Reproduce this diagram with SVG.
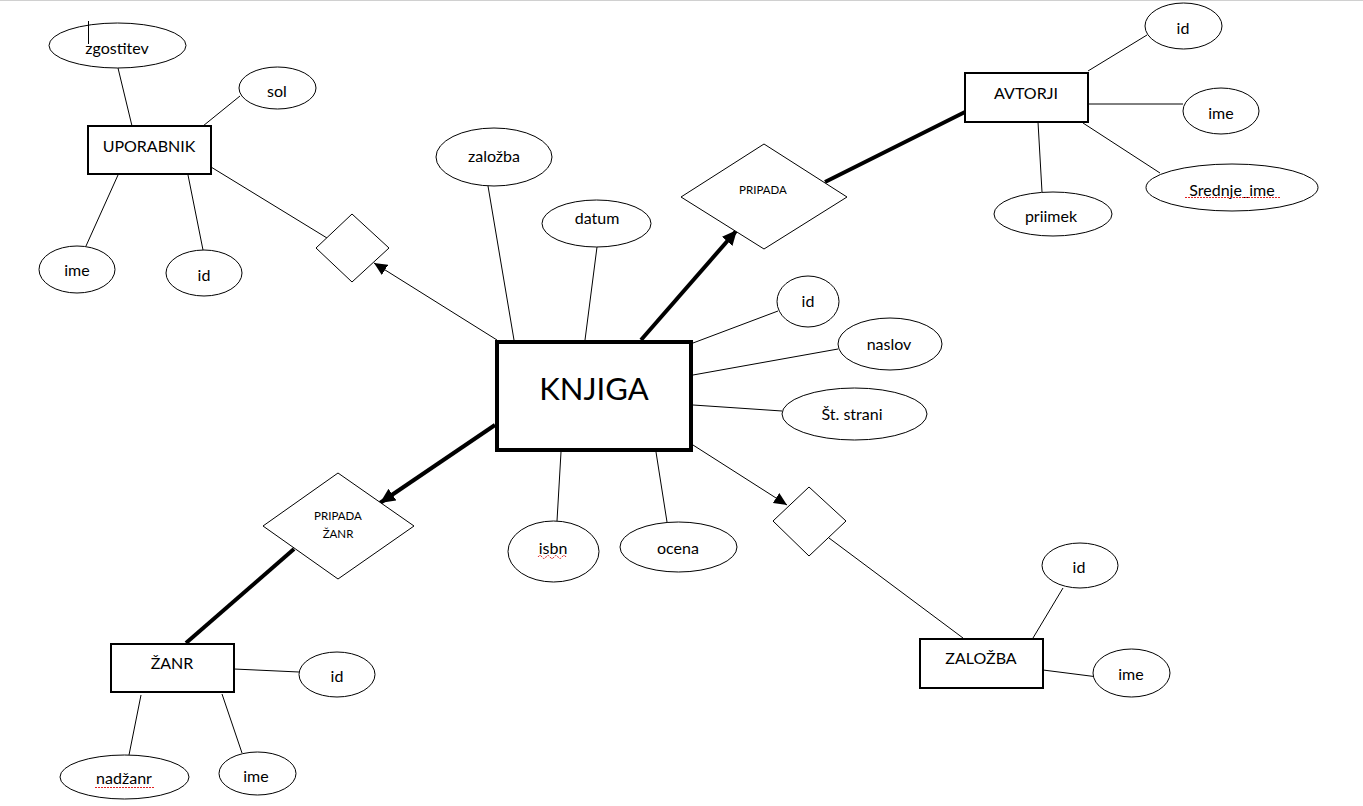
<svg xmlns="http://www.w3.org/2000/svg" width="1363" height="806" viewBox="0 0 1363 806">
<style>
text{font-family:Lato,"Open Sans","Liberation Sans",sans-serif;fill:#000;text-anchor:middle;dominant-baseline:central}
.a{font-size:16px}
.s{font-size:11.5px}
.big{font-size:31px}
ellipse,.d{fill:#fff;stroke:#000;stroke-width:1}
.e{fill:#fff;stroke:#000;stroke-width:2}
.k{fill:#fff;stroke:#000;stroke-width:4}
.t{stroke:#000;stroke-width:1;fill:none}
.w{stroke:#000;stroke-width:4;fill:none}
.sq{stroke:#e02020;stroke-width:1;fill:none;stroke-dasharray:2 1}
</style>
<defs>
<marker id="ah" markerUnits="userSpaceOnUse" markerWidth="14" markerHeight="12" refX="13" refY="6" orient="auto"><path d="M0,0 L13,6 L0,12 Z" fill="#000"/></marker>
<marker id="ahw" markerUnits="userSpaceOnUse" markerWidth="16" markerHeight="14" refX="15" refY="7" orient="auto"><path d="M0,0 L15,7 L0,14 Z" fill="#000"/></marker>
</defs>
<rect width="1363" height="806" fill="#fff"/>
<line x1="0" y1="0.5" x2="1363" y2="0.5" stroke="#d0d0d0" stroke-width="1"/>

<g id="connectors">
<line class="t" x1="118" y1="68" x2="132" y2="126"/>
<line class="t" x1="203" y1="126" x2="240" y2="96"/>
<line class="t" x1="118" y1="175" x2="86" y2="246"/>
<line class="t" x1="188" y1="175" x2="203" y2="250"/>
<line class="t" x1="211" y1="167" x2="327" y2="238"/>
<line class="t" x1="497" y1="340" x2="374" y2="263" marker-end="url(#ah)"/>
<line class="t" x1="488" y1="186" x2="514" y2="340"/>
<line class="t" x1="597" y1="247" x2="585" y2="340"/>
<line class="w" x1="641" y1="340" x2="737" y2="230" marker-end="url(#ahw)"/>
<line class="w" x1="825" y1="182" x2="965" y2="112"/>
<line class="t" x1="1088" y1="71" x2="1147" y2="35"/>
<line class="t" x1="1088" y1="104" x2="1183" y2="104"/>
<line class="t" x1="1083" y1="123" x2="1160" y2="173"/>
<line class="t" x1="1038" y1="122" x2="1042" y2="192"/>
<line class="t" x1="693" y1="343" x2="778" y2="311"/>
<line class="t" x1="693" y1="375" x2="838" y2="349"/>
<line class="t" x1="693" y1="405" x2="782" y2="411"/>
<line class="t" x1="561" y1="452" x2="557" y2="521"/>
<line class="t" x1="656" y1="452" x2="667" y2="522"/>
<line class="t" x1="693" y1="445" x2="787" y2="505" marker-end="url(#ah)"/>
<line class="t" x1="829" y1="538" x2="963" y2="638"/>
<line class="t" x1="1033" y1="638" x2="1063" y2="588"/>
<line class="t" x1="1043" y1="670" x2="1098" y2="677"/>
<line class="w" x1="495" y1="425" x2="380" y2="503" marker-end="url(#ahw)"/>
<line class="w" x1="294" y1="549" x2="186" y2="643"/>
<line class="t" x1="234" y1="669" x2="299" y2="672"/>
<line class="t" x1="141" y1="695" x2="129" y2="755"/>
<line class="t" x1="222" y1="694" x2="242" y2="753"/>
</g>

<g id="uporabnik"><rect class="e" x="88" y="126" width="123" height="48"/><text class="a" x="149" y="145">UPORABNIK</text></g>
<g id="up-zgostitev"><ellipse cx="117.5" cy="45.5" rx="68.5" ry="22.5"/><text class="a" x="117" y="47">zgostitev</text><line x1="88.5" y1="21" x2="88.5" y2="44" stroke="#000" stroke-width="1"/></g>
<g id="up-sol"><ellipse cx="277.5" cy="88" rx="38.5" ry="21"/><text class="a" x="277" y="90">sol</text></g>
<g id="up-ime"><ellipse cx="77" cy="269.5" rx="38" ry="23.5"/><text class="a" x="77" y="269">ime</text></g>
<g id="up-id"><ellipse cx="204" cy="273" rx="38" ry="23"/><text class="a" x="204" y="274">id</text></g>
<g id="rel-uporabnik"><polygon class="d" points="352,214 389,248 352,282 316,248"/></g>

<g id="knjiga"><rect class="k" x="497" y="342" width="194" height="108"/><text class="big" x="594" y="388">KNJIGA</text></g>
<g id="k-zalozba"><ellipse cx="494" cy="157" rx="58" ry="29"/><text class="a" x="494" y="155">založba</text></g>
<g id="k-datum"><ellipse cx="596.5" cy="223.5" rx="54.5" ry="23.5"/><text class="a" x="597" y="217">datum</text></g>
<g id="k-id"><ellipse cx="808" cy="301.5" rx="31" ry="25.5"/><text class="a" x="808" y="300">id</text></g>
<g id="k-naslov"><ellipse cx="890" cy="344" rx="52" ry="26"/><text class="a" x="889" y="343">naslov</text></g>
<g id="k-strani"><ellipse cx="854.5" cy="414" rx="72.5" ry="26"/><text class="a" x="852" y="413">Št. strani</text></g>
<g id="k-isbn"><ellipse cx="553.5" cy="551.5" rx="45.5" ry="30.5"/><text class="a" x="553" y="547">isbn</text><path class="sq" d="M538,557 q2,-3 4,0 t4,0 t4,0 t4,0 t4,0 t4,0 t4,0" stroke-dasharray="none"/></g>
<g id="k-ocena"><ellipse cx="678.5" cy="547" rx="58.5" ry="25"/><text class="a" x="678" y="547">ocena</text></g>

<g id="pripada"><polygon class="d" points="764,144 847,197 764,249 681,197"/><text class="s" x="763" y="189">PRIPADA</text></g>
<g id="avtorji"><rect class="e" x="965" y="73" width="123" height="49"/><text class="a" x="1026" y="92">AVTORJI</text></g>
<g id="a-id"><ellipse cx="1183.5" cy="26" rx="38.5" ry="23"/><text class="a" x="1183" y="27">id</text></g>
<g id="a-ime"><ellipse cx="1221" cy="111" rx="38" ry="23"/><text class="a" x="1221" y="112">ime</text></g>
<g id="a-srednje"><ellipse cx="1232" cy="187.5" rx="86" ry="23.5"/><text class="a" x="1232" y="189">Srednje_ime</text><line class="sq" x1="1185" y1="197.5" x2="1281" y2="197.5"/></g>
<g id="a-priimek"><ellipse cx="1053" cy="214" rx="59" ry="22"/><text class="a" x="1051" y="215">priimek</text></g>

<g id="rel-zalozba"><polygon class="d" points="809,487 846,521 809,556 773,521"/></g>
<g id="zalozba"><rect class="e" x="920" y="639" width="123" height="49"/><text class="a" x="981" y="657">ZALOŽBA</text></g>
<g id="z-id"><ellipse cx="1080" cy="565.5" rx="38" ry="22.5"/><text class="a" x="1079" y="566">id</text></g>
<g id="z-ime"><ellipse cx="1131.5" cy="673" rx="38.5" ry="24"/><text class="a" x="1131" y="673">ime</text></g>

<g id="pripada-zanr"><polygon class="d" points="338,473 414,526 338,579 263,526"/><text class="s" x="338" y="515">PRIPADA</text><text class="s" x="338" y="533">ŽANR</text></g>
<g id="zanr"><rect class="e" x="111" y="644" width="123" height="48"/><text class="a" x="172" y="662">ŽANR</text></g>
<g id="z-zid"><ellipse cx="337" cy="674.5" rx="38" ry="22.5"/><text class="a" x="337" y="675">id</text></g>
<g id="z-nadzanr"><ellipse cx="124.5" cy="777" rx="64.5" ry="22"/><text class="a" x="124" y="777">nadžanr</text><line class="sq" x1="95" y1="787.5" x2="154" y2="787.5"/></g>
<g id="z-ime2"><ellipse cx="257.5" cy="773.5" rx="38.5" ry="21.5"/><text class="a" x="256" y="775">ime</text></g>
</svg>
